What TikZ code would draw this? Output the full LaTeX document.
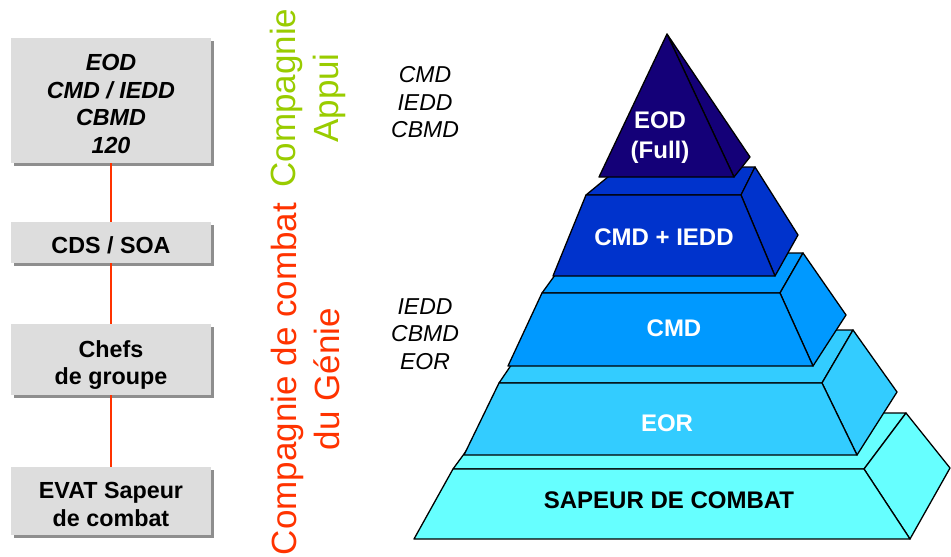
\documentclass[tikz,border=0pt]{standalone}
\usepackage{fontspec}
\setmainfont{Liberation Sans}
\usetikzlibrary{shadows}
\definecolor{boxgray}{HTML}{DDDDDD}
\definecolor{shadowgray}{HTML}{8E8E8E}
\definecolor{redline}{HTML}{FF3300}
\definecolor{appui}{HTML}{99CC00}
\definecolor{lvlA}{HTML}{140078}
\definecolor{lvlB}{HTML}{0033CC}
\definecolor{lvlC}{HTML}{0099FF}
\definecolor{lvlD}{HTML}{33CCFF}
\definecolor{lvlE}{HTML}{66FFFF}
\begin{document}
\begin{tikzpicture}[x=1pt,y=-1pt,
  rankbox/.style={fill=boxgray, draw=none, minimum width=200pt, inner sep=0pt,
    align=center, font=\fontsize{23.3}{27.7}\selectfont\bfseries,
    text depth=0.2pt,
    drop shadow={shadow xshift=2.5pt, shadow yshift=-2.5pt, fill=shadowgray, opacity=1}},
  link/.style={draw=redline, line width=2pt},
  face/.style={draw=black, line width=1.3pt, line join=round},
  sidelabel/.style={rotate=90, anchor=north, inner sep=0pt, align=center,
    font=\fontsize{35}{43}\selectfont},
  qual/.style={align=center, inner sep=0pt, font=\fontsize{23}{27.5}\selectfont\itshape},
  tier/.style={align=center, inner sep=0pt, text=white, font=\fontsize{24}{30}\selectfont\bfseries},
]
\useasboundingbox (0,0) rectangle (951,557);

% left column of boxes
\node[rankbox, minimum height=125pt, text height=106pt,
  font=\fontsize{23.3}{27.7}\selectfont\bfseries\itshape]
  (eod) at (111,100.5) {EOD\\CMD / IEDD\\CBMD\\120};
\node[rankbox, minimum height=41pt, text height=22.9pt] (cds) at (111,242.5) {CDS / SOA};
\node[rankbox, minimum height=71pt, text height=50.6pt] (chefs) at (111,359.5) {Chefs\\de groupe};
\node[rankbox, minimum height=68pt, text height=50.6pt] (evat) at (111,501) {EVAT Sapeur\\de combat};
\draw[link] (eod.south) -- (cds.north);
\draw[link] (cds.south) -- (chefs.north);
\draw[link] (chefs.south) -- (evat.north);

% rotated labels
\node[sidelabel, text=appui] (appui) at (270,98) {Compagnie\\Appui};
\node[sidelabel, text=redline] (genie) at (271,379) {Compagnie de combat\\du Génie};

% qualification lists
\node[qual] (q1) at (425,102.5) {CMD\\IEDD\\CBMD};
\node[qual] (q2) at (425,334) {IEDD\\CBMD\\EOR};

% pyramid, bottom layer first
% layer 5
\filldraw[face, fill=lvlE] (453,469) -- (494,413) -- (906,413) -- (864,469) -- cycle;
\filldraw[face, fill=lvlE] (864,469) -- (906,413) -- (950,468) -- (910,539) -- cycle;
\filldraw[face, fill=lvlE] (453,469) -- (864,469) -- (910,539) -- (414,539) -- cycle;
% layer 4
\filldraw[face, fill=lvlD] (499,383) -- (535,330) -- (853,330) -- (822,383) -- cycle;
\filldraw[face, fill=lvlD] (822,383) -- (853,330) -- (897,392) -- (857,455) -- cycle;
\filldraw[face, fill=lvlD] (499,383) -- (822,383) -- (857,455) -- (464,455) -- cycle;
% layer 3
\filldraw[face, fill=lvlC] (542,293) -- (571,253) -- (803,253) -- (780,293) -- cycle;
\filldraw[face, fill=lvlC] (780,293) -- (803,253) -- (846,315) -- (813,366) -- cycle;
\filldraw[face, fill=lvlC] (542,293) -- (780,293) -- (813,366) -- (508,366) -- cycle;
% layer 2
\filldraw[face, fill=lvlB] (586,195) -- (620,167) -- (755,167) -- (741,195) -- cycle;
\filldraw[face, fill=lvlB] (741,195) -- (755,167) -- (798,235) -- (775,276) -- cycle;
\filldraw[face, fill=lvlB] (586,195) -- (741,195) -- (775,276) -- (553,276) -- cycle;
% layer 1
\filldraw[face, fill=lvlA] (667,34) -- (750,157) -- (734,177) -- cycle;
\filldraw[face, fill=lvlA] (667,34) -- (734,177) -- (599,177) -- cycle;

\node[tier] (tA) at (660,138) {EOD\\(Full)};
\node[tier] (tB) at (664,237) {CMD + IEDD};
\node[tier] (tC) at (674,328) {CMD};
\node[tier] (tD) at (667,423) {EOR};
\node[tier, text=black] (tE) at (669,500) {SAPEUR DE COMBAT};
\end{tikzpicture}
\end{document}
